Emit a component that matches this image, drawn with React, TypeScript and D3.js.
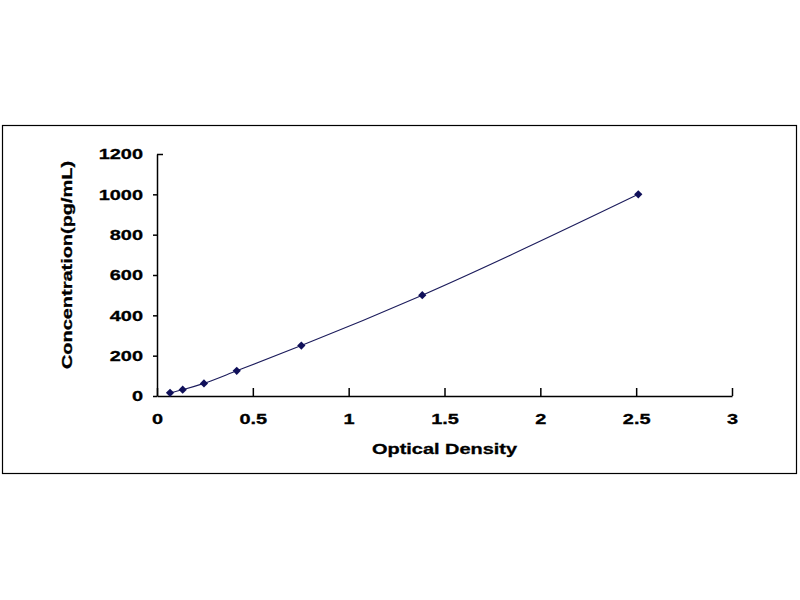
import React, { useRef, useEffect } from 'react';
import * as d3 from 'd3';

// Standard curve readings
const opticalDensity = [0.068, 0.134, 0.245, 0.416, 0.753, 1.384, 2.511];
const concentration = [15.63, 31.25, 62.5, 125, 250, 500, 1000];
const xTicks = [0, 0.5, 1, 1.5, 2, 2.5, 3];
const yTicks = [0, 200, 400, 600, 800, 1000, 1200];
const xTitle = 'Optical Density';
const yTitle = 'Concentration(pg/mL)';

const WIDTH = 800;
const HEIGHT = 600;
const plot = { left: 157, right: 732, top: 154, bottom: 396 };
const FONT = '"Liberation Sans", Arial, sans-serif';
// the reference uses a noticeably wide bold face
const STRETCH = 1.33;
const MARK = '#10105a';
const LINE = '#1c1c5c';

const App: React.FC = () => {
  const svgRef = useRef<SVGSVGElement>(null);

  useEffect(() => {
    if (!svgRef.current) return;
    const svg = d3.select(svgRef.current);
    svg.selectAll('*').remove();

    // outer frame
    svg.append('rect')
      .attr('x', 2.5)
      .attr('y', 125.5)
      .attr('width', 794)
      .attr('height', 348)
      .attr('fill', 'none')
      .attr('stroke', '#000')
      .attr('stroke-width', 1.2);

    const x = d3.scaleLinear().domain([0, 3]).range([plot.left, plot.right]);
    const y = d3.scaleLinear().domain([0, 1200]).range([plot.bottom, plot.top]);

    // x axis, ticks pointing up into the plot
    const xAxis = d3.axisBottom(x)
      .tickValues(xTicks)
      .tickSizeInner(-8)
      .tickSizeOuter(0)
      .tickPadding(17)
      .tickFormat(d => String(d));

    const gx = svg.append('g')
      .attr('transform', `translate(0,${plot.bottom})`)
      .call(xAxis);

    // y axis, short ticks outside
    const yAxis = d3.axisLeft(y)
      .tickValues(yTicks)
      .tickSizeInner(4)
      .tickSizeOuter(0)
      .tickPadding(10)
      .tickFormat(d => String(d));

    const gy = svg.append('g')
      .attr('transform', `translate(${plot.left},0)`)
      .call(yAxis);

    gy.selectAll<SVGLineElement, number>('.tick line')
      .filter(d => d === 1200)
      .attr('x2', 6);

    [gx, gy].forEach(g => {
      g.selectAll('path.domain, .tick line')
        .attr('stroke', '#000')
        .attr('stroke-width', 1.5);
      g.selectAll('text')
        .style('font-family', FONT)
        .style('font-weight', 'bold')
        .style('font-size', '15px')
        .style('fill', '#000');
    });

    // titles
    svg.append('text')
      .attr('x', (plot.left + plot.right) / 2)
      .attr('y', 454)
      .attr('text-anchor', 'middle')
      .style('font-family', FONT)
      .style('font-weight', 'bold')
      .style('font-size', '15px')
      .text(xTitle);

    svg.append('text')
      .attr('transform', 'translate(72,265) rotate(-90)')
      .attr('text-anchor', 'middle')
      .style('font-family', FONT)
      .style('font-weight', 'bold')
      .style('font-size', '15px')
      .text(yTitle);

    // widen every text about its anchor point
    svg.selectAll<SVGTextElement, unknown>('text').each(function () {
      const px = +(this.getAttribute('x') || 0);
      const prev = this.getAttribute('transform') || '';
      this.setAttribute(
        'transform',
        `${prev} translate(${px},0) scale(${STRETCH},1) translate(${-px},0)`
      );
      this.style.strokeWidth = '0.3px';
      this.style.stroke = '#000';
    });

    const points = opticalDensity.map((od, i) => ({ od, conc: concentration[i] }));

    const line = d3.line<{ od: number; conc: number }>()
      .x(d => x(d.od))
      .y(d => y(d.conc))
      .curve(d3.curveMonotoneX);

    svg.append('path')
      .datum(points)
      .attr('fill', 'none')
      .attr('stroke', LINE)
      .attr('stroke-width', 1.1)
      .attr('d', line);

    const diamond = d3.symbol(d3.symbolSquare, 34);
    svg.selectAll('.pt')
      .data(points)
      .enter()
      .append('path')
      .attr('class', 'pt')
      .attr('d', diamond)
      .attr('transform', d => `translate(${x(d.od)},${y(d.conc)}) rotate(45)`)
      .attr('fill', MARK);
  }, []);

  return (
    <svg
      ref={svgRef}
      width={WIDTH}
      height={HEIGHT}
      viewBox={`0 0 ${WIDTH} ${HEIGHT}`}
      style={{ position: 'absolute', left: 0, top: 0, background: '#fff' }}
    />
  );
};

export default App;
